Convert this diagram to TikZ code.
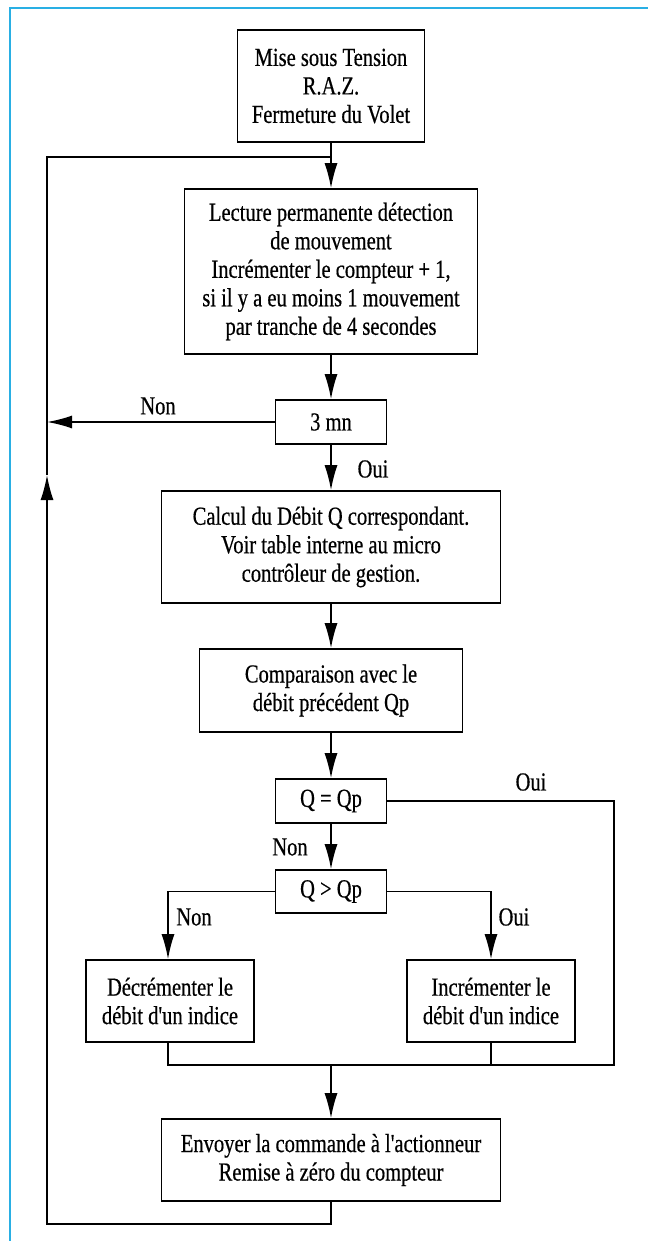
\documentclass[tikz,border=0pt]{standalone}
\usepackage{fontspec}
\setmainfont{Liberation Serif}[FakeStretch=0.79,FakeBold=0.5]
\newfontfamily\apofont{Liberation Serif}[FakeStretch=0.79,FakeBold=0.5]
\usetikzlibrary{arrows.meta}
\definecolor{frameblue}{RGB}{41,175,228}
\newcommand{\apo}{{\apofont'}}
\begin{document}
\begin{tikzpicture}[x=0.5pt,y=-0.5pt,
  font=\fontsize{13pt}{14.25pt}\selectfont,
  box/.style={draw, line width=0.8pt, align=center, inner sep=0pt},
  conn/.style={line width=0.8pt},
  arr/.style={line width=0.8pt, -{Latex[length=12.5pt,width=6.5pt]}},
  lbl/.style={inner sep=0pt}]
\useasboundingbox (0,0) rectangle (648,1241);
\draw[frameblue, line width=1pt] (10,1241) -- (10,8) -- (648,8);

\node[box, minimum width=93.5pt, minimum height=56pt] (b1) at (331,86) {Mise sous Tension\\R.A.Z.\\Fermeture du Volet};
\node[box, minimum width=146.5pt, minimum height=82.5pt] (b2) at (331,271.5) {Lecture permanente détection\\de mouvement\\Incrémenter le compteur + 1,\\si il y a eu moins 1 mouvement\\par tranche de 4 secondes};
\node[box, minimum width=55.5pt, minimum height=22pt] (b3) at (331,422) {3 mn};
\node[box, minimum width=169.5pt, minimum height=56pt] (b4) at (331,547) {Calcul du Débit Q correspondant.\\Voir table interne au micro\\contrôleur de gestion.};
\node[box, minimum width=131.5pt, minimum height=41.5pt] (b5) at (331,690.5) {Comparaison avec le\\débit précédent Qp};
\node[box, minimum width=55.5pt, minimum height=22pt] (b6) at (331,801) {Q = Qp};
\node[box, minimum width=55.5pt, minimum height=21.5pt] (b7) at (331,891.5) {Q > Qp};
\node[box, minimum width=84pt, minimum height=41pt] (b8) at (170,1001) {Décrémenter le\\débit d\apo un indice};
\node[box, minimum width=84pt, minimum height=41pt] (b9) at (491,1001) {Incrémenter le\\débit d\apo un indice};
\node[box, minimum width=169.5pt, minimum height=41pt] (b10) at (331,1160) {Envoyer la commande à l\apo actionneur\\Remise à zéro du compteur};

\coordinate (lb) at (47,1224);
\coordinate (la) at (47,475);
\coordinate (lt) at (47,157);
\coordinate (lj) at (331,157);
\coordinate (l3) at (47,422);
\coordinate (mj) at (331,1065);
\coordinate (ml) at (168,1065);
\coordinate (mr) at (614,1065);
\coordinate (rt) at (614,801);
\coordinate (gl) at (168,891.5);
\coordinate (gr) at (491,891.5);

\draw[arr] (b1.south) -- (b2.north);
\draw[conn] (lj) -- (lt) -- (la);
\draw[arr] (b10.south) -- (331,1224) -- (lb) -- (la);
\draw[arr] (b2.south) -- (b3.north);
\draw[arr] (b3.west) -- (l3);
\draw[arr] (b3.south) -- (b4.north);
\draw[arr] (b4.south) -- (b5.north);
\draw[arr] (b5.south) -- (b6.north);
\draw[arr] (b6.south) -- (b7.north);
\draw[arr] (b7.west) -- (gl) -- (b8.north -| gl);
\draw[arr] (b7.east) -- (gr) -- (b9.north);
\draw[conn] (b8.south -| ml) -- (ml) -- (mr) -- (rt) -- (b6.east);
\draw[conn] (b9.south) -- (b9.south |- mj);
\draw[arr] (mj) -- (b10.north);

\node[lbl] (n1) at (158,406) {Non};
\node[lbl] (o1) at (373,469) {Oui};
\node[lbl] (o2) at (531,782) {Oui};
\node[lbl] (n2) at (290,847) {Non};
\node[lbl] (n3) at (194,917) {Non};
\node[lbl] (o3) at (514,917) {Oui};
\end{tikzpicture}
\end{document}
